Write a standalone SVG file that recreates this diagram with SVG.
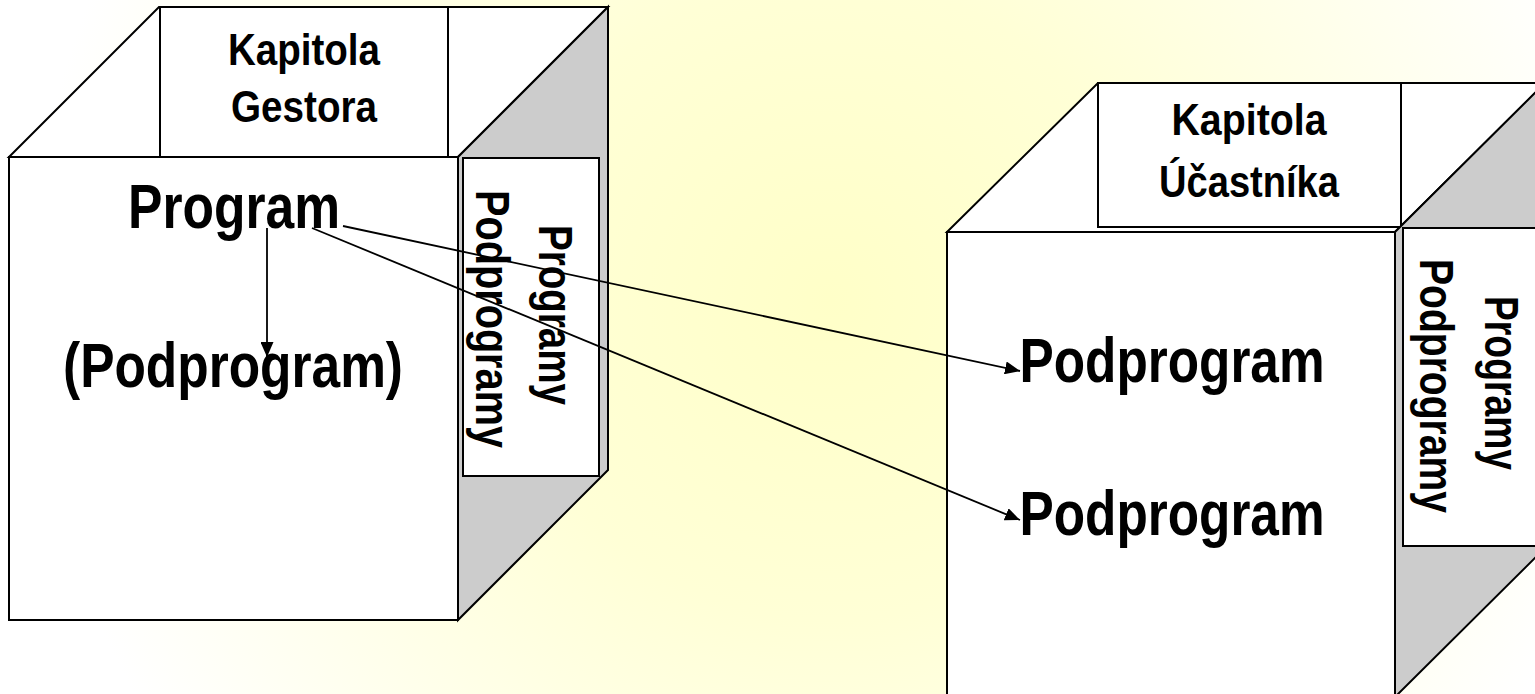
<svg xmlns="http://www.w3.org/2000/svg" width="1535" height="694" viewBox="0 0 1535 694">
<defs>
<radialGradient id="bg" gradientUnits="userSpaceOnUse" cx="830" cy="300" r="800">
<stop offset="0" stop-color="#FFFFC8"/>
<stop offset="0.4" stop-color="#FFFFD6"/>
<stop offset="1" stop-color="#FFFFFF"/>
</radialGradient>
<marker id="ah" markerWidth="15" markerHeight="13" refX="15" refY="6.5" orient="auto" markerUnits="userSpaceOnUse">
<path d="M0,0 L15,6.5 L0,13 z" fill="#000"/>
</marker>
<style>
.sh{stroke:#000;stroke-width:2;stroke-linejoin:miter}
.w{fill:#fff}
.g{fill:#CCCCCC}
.t{font-family:"Liberation Sans Narrow","Liberation Sans",Arial,sans-serif;font-weight:bold;fill:#000}
.big{font-size:63px}
.lab{font-size:45px}
.vt{font-size:48px}
.c{stroke:#000;stroke-width:1.8;fill:none}
</style>
</defs>
<rect x="0" y="0" width="1535" height="694" fill="url(#bg)"/>

<g id="cube-gestor">
<polygon class="sh w" points="9,157 159,7 608,7 458,157"/>
<rect class="sh w" x="160" y="7" width="288" height="151"/>
<polygon class="sh g" points="458,157 608,7 608,470 458,620"/>
<rect class="sh w" x="9" y="157" width="449" height="463"/>
<rect class="sh w" x="463" y="158" width="136" height="318"/>
<text class="t lab" x="304" y="65" text-anchor="middle" textLength="152" lengthAdjust="spacingAndGlyphs">Kapitola</text>
<text class="t lab" x="304" y="122" text-anchor="middle" textLength="146" lengthAdjust="spacingAndGlyphs">Gestora</text>
<text class="t big" x="234" y="228" text-anchor="middle" textLength="212" lengthAdjust="spacingAndGlyphs">Program</text>
<text class="t big" x="233" y="387" text-anchor="middle" textLength="340" lengthAdjust="spacingAndGlyphs">(Podprogram)</text>
<text class="t vt" transform="translate(539,315) rotate(90)" text-anchor="middle" textLength="180" lengthAdjust="spacingAndGlyphs">Programy</text>
<text class="t vt" transform="translate(476,319) rotate(90)" text-anchor="middle" textLength="258" lengthAdjust="spacingAndGlyphs">Podprogramy</text>
</g>

<g id="cube-ucastnik">
<polygon class="sh w" points="947,232 1098,83 1545,83 1395,232"/>
<rect class="sh w" x="1098" y="83" width="303" height="144"/>
<polygon class="sh g" points="1395,232 1545,83 1545,548 1395,697"/>
<rect class="sh w" x="947" y="232" width="448" height="470"/>
<rect class="sh w" x="1403" y="228" width="136" height="318"/>
<text class="t lab" x="1249" y="135" text-anchor="middle" textLength="155" lengthAdjust="spacingAndGlyphs">Kapitola</text>
<text class="t lab" x="1249" y="197" text-anchor="middle" textLength="180" lengthAdjust="spacingAndGlyphs">Účastníka</text>
<text class="t big" x="1172" y="382" text-anchor="middle" textLength="305" lengthAdjust="spacingAndGlyphs">Podprogram</text>
<text class="t big" x="1172" y="535" text-anchor="middle" textLength="305" lengthAdjust="spacingAndGlyphs">Podprogram</text>
<text class="t vt" transform="translate(1485,383) rotate(90)" text-anchor="middle" textLength="174" lengthAdjust="spacingAndGlyphs">Programy</text>
<text class="t vt" transform="translate(1420,386) rotate(90)" text-anchor="middle" textLength="254" lengthAdjust="spacingAndGlyphs">Podprogramy</text>
</g>

<g id="connectors">
<line class="c" x1="267" y1="228" x2="267" y2="357" marker-end="url(#ah)"/>
<line class="c" x1="343" y1="226" x2="1020" y2="371" marker-end="url(#ah)"/>
<line class="c" x1="312" y1="228" x2="1020" y2="520" marker-end="url(#ah)"/>
</g>
</svg>
